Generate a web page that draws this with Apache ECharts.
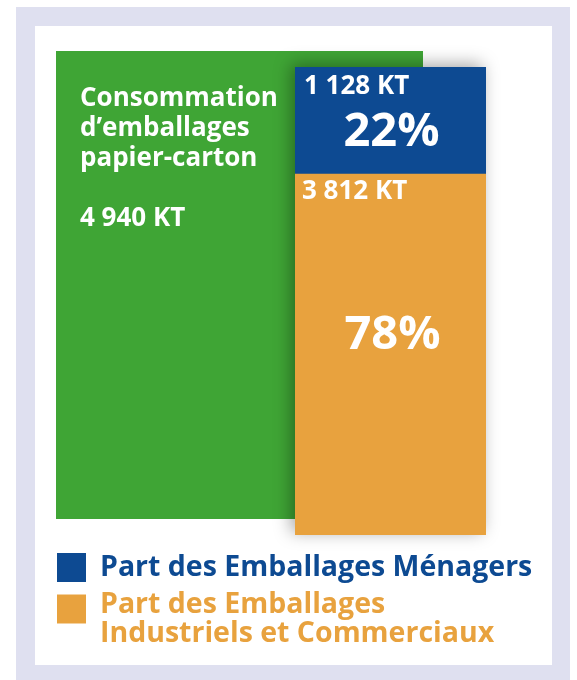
<!DOCTYPE html>
<html>

<head>
    <meta charset="utf-8">
    <script src="https://cdn.jsdelivr.net/npm/echarts@6/dist/echarts.min.js"></script>
    <style>
        html, body, div {
            width: 100%;
            height: 100%;
            margin: 0px;
        }
    </style>
</head>

<body>
    <div id="chart"></div>
    <script>
        // données (kt)
        var categories = ['Emballages papier-carton'];
        var totalKt = [4940];
        var menagersKt = [1128];
        var industrielsKt = [3812];
        var menagersPct = ['22%'];
        var industrielsPct = ['78%'];
        var totalTitle = 'Consommation\nd’emballages\npapier-carton';
        var nameMenagers = 'Part des Emballages Ménagers';
        var nameIndustriels = 'Part des Emballages Industriels et Commerciaux';

        var GREEN = '#3fa535', BLUE = '#0d4a92', ORANGE = '#e8a23e';
        var FONT = 'Open Sans';

        function kt(v) {
            return String(v).replace(/\B(?=(\d{3})+(?!\d))/g, ' ') + ' KT';
        }

        var myChart = echarts.init(document.getElementById('chart'));
        var option = {
            backgroundColor: '#fff',
            animation: false,
            textStyle: { fontFamily: FONT },
            graphic: [
                { type: 'rect', z: -10, shape: { x: 16, y: 7, width: 554, height: 680 }, style: { fill: '#dfe0f0' } },
                { type: 'rect', z: -9, shape: { x: 35, y: 26, width: 517, height: 639 }, style: { fill: '#fff' } }
            ],
            grid: [
                { left: 56, top: 51, width: 367, height: 468 },
                { left: 295, top: 67, width: 191, height: 468 }
            ],
            xAxis: [
                { type: 'category', gridIndex: 0, data: categories, show: false },
                { type: 'category', gridIndex: 1, data: categories, show: false }
            ],
            yAxis: [
                { type: 'value', gridIndex: 0, min: 0, max: totalKt[0], show: false },
                { type: 'value', gridIndex: 1, min: 0, max: totalKt[0], show: false }
            ],
            legend: [
                {
                    left: 57, top: 553, padding: 0, icon: 'rect',
                    itemWidth: 29, itemHeight: 29, selectedMode: false,
                    data: [{ name: nameMenagers, textStyle: { color: BLUE } }],
                    textStyle: { fontSize: 28.5, fontWeight: 'bold', fontFamily: FONT, padding: [0, 0, 0, 9] }
                },
                {
                    left: 57, top: 590, padding: 0, icon: 'rect',
                    itemWidth: 29, itemHeight: 29, selectedMode: false,
                    data: [{ name: nameIndustriels, textStyle: { color: ORANGE } }],
                    formatter: function () { return '{a|Part des Emballages}\n{b|Industriels et Commerciaux}'; },
                    textStyle: {
                        fontSize: 28.5, fontWeight: 'bold', fontFamily: FONT, padding: [0, 0, 0, 9],
                        rich: {
                            a: { fontSize: 28.5, fontWeight: 'bold', fontFamily: FONT, color: ORANGE, lineHeight: 50, verticalAlign: 'bottom' },
                            b: { fontSize: 28.5, fontWeight: 'bold', fontFamily: FONT, color: ORANGE, lineHeight: 30 }
                        }
                    }
                }
            ],
            series: [
                {
                    name: 'Consommation d’emballages papier-carton',
                    type: 'bar', xAxisIndex: 0, yAxisIndex: 0,
                    data: totalKt, barWidth: '100%',
                    itemStyle: { color: GREEN },
                    label: {
                        show: true, position: [24, 33], color: '#fff',
                        fontSize: 26, fontWeight: 'bold', lineHeight: 30,
                        formatter: function (p) { return totalTitle + '\n\n' + kt(p.value); }
                    }
                },
                {
                    name: 'ombre', type: 'bar', xAxisIndex: 1, yAxisIndex: 1,
                    data: totalKt, barWidth: '100%', silent: true,
                    itemStyle: {
                        color: ORANGE, shadowBlur: 16, shadowColor: 'rgba(0,0,0,0.35)',
                        shadowOffsetX: -4, shadowOffsetY: -3
                    }
                },
                {
                    name: nameIndustriels, type: 'bar', stack: 'part', xAxisIndex: 1, yAxisIndex: 1,
                    data: industrielsKt, barWidth: '100%', barGap: '-100%',
                    itemStyle: { color: ORANGE },
                    label: {
                        show: true, position: [7, 0], color: '#fff',
                        formatter: function (p) { return '{v|' + kt(p.value) + '}\n{p|' + industrielsPct[p.dataIndex] + '}'; },
                        rich: {
                            v: { fontSize: 26, fontWeight: 'bold', color: '#fff', lineHeight: 36 },
                            p: { fontSize: 47, fontWeight: 'bold', color: '#fff', lineHeight: 252, width: 181, align: 'center' }
                        }
                    }
                },
                {
                    name: nameMenagers, type: 'bar', stack: 'part', xAxisIndex: 1, yAxisIndex: 1,
                    data: menagersKt, barWidth: '100%', barGap: '-100%',
                    itemStyle: { color: BLUE },
                    label: {
                        show: true, position: [9, 0], color: '#fff',
                        formatter: function (p) { return '{v|' + kt(p.value) + '}\n{p|' + menagersPct[p.dataIndex] + '}'; },
                        rich: {
                            v: { fontSize: 26, fontWeight: 'bold', color: '#fff', lineHeight: 40 },
                            p: { fontSize: 47, fontWeight: 'bold', color: '#fff', lineHeight: 52, width: 175, align: 'center' }
                        }
                    }
                }
            ]
        };
        myChart.setOption(option);
    </script>
</body>

</html>
